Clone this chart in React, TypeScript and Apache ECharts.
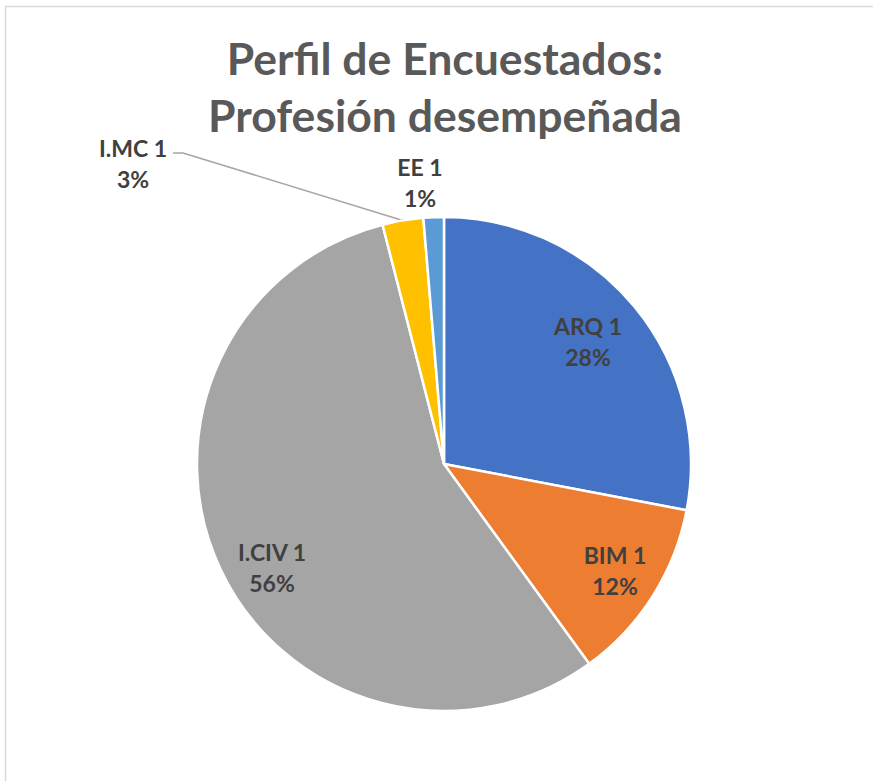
import React, { useEffect, useRef } from "react";
import * as echarts from "echarts";

// ---- data ----
const categories = ["ARQ 1", "BIM 1", "I.CIV 1", "I.MC 1", "EE 1"];
const values = [21, 9, 42, 2, 1];
const colors = ["#4472C4", "#ED7D31", "#A5A5A5", "#FFC000", "#5B9BD5"];
const titleText = "Perfil de Encuestados:\nProfesión desempeñada";

// ---- layout ----
const CX = 444;
const CY = 464;
const R = 247;
const labelPos: number[][] = [
  [588, 341],
  [615, 570],
  [272, 567],
  [133, 163],
  [420, 182],
];
const LEADER_INDEX = 3;

export default function App() {
  const ref = useRef<HTMLDivElement>(null);

  useEffect(() => {
    if (!ref.current) return;
    const chart = echarts.init(ref.current, undefined, { renderer: "svg" });
    const total = values.reduce((a, b) => a + b, 0);

    const midAngle = (i: number) => {
      let before = 0;
      for (let k = 0; k < i; k++) before += values[k];
      const frac = (before + values[i] / 2) / total;
      return frac * Math.PI * 2; // clockwise from top
    };

    chart.setOption({
      animation: false,
      backgroundColor: "#ffffff",
      title: {
        text: titleText,
        left: "center",
        top: 24,
        textStyle: {
          fontFamily: "Lato",
          fontWeight: "bold",
          fontSize: 44.5,
          lineHeight: 57,
          color: "#595959",
        },
      },
      graphic: [
        {
          type: "rect",
          shape: { x: 5.5, y: 6.5, width: 1200, height: 1200 },
          style: { fill: "none", stroke: "#d9d9d9", lineWidth: 1.5 },
          silent: true,
          z: -10,
        },
      ],
      series: [
        {
          type: "pie",
          center: [CX, CY],
          radius: R,
          startAngle: 90,
          clockwise: true,
          avoidLabelOverlap: false,
          itemStyle: { borderColor: "#ffffff", borderWidth: 2.5 },
          emphasis: { disabled: true },
          label: {
            show: true,
            position: "outside",
            fontFamily: "Lato",
            fontWeight: "bold",
            fontSize: 23,
            lineHeight: 31,
            color: "#404040",
            formatter: (p: any) =>
              `${p.name}\n${Math.round((p.value / total) * 100)}%`,
          },
          labelLine: {
            show: true,
            lineStyle: { color: "#a6a6a6", width: 1.5 },
          },
          labelLayout: (params: any) => {
            const i = params.dataIndex;
            const [x, y] = labelPos[i];
            const res: any = { x, y, align: "center", verticalAlign: "middle" };
            if (i === LEADER_INDEX) {
              const a = midAngle(i);
              const px = CX + R * Math.sin(a);
              const py = CY - R * Math.cos(a);
              res.labelLinePoints = [
                [px, py],
                [183, 153],
                [173, 153],
              ];
            }
            return res;
          },
          data: categories.map((name, i) => ({
            name,
            value: values[i],
            itemStyle: { color: colors[i] },
            labelLine: { show: i === LEADER_INDEX },
          })),
        },
      ],
    });
    return () => chart.dispose();
  }, []);

  return (
    <div
      style={{
        position: "fixed",
        left: 0,
        top: 0,
        width: 873,
        height: 781,
        overflow: "hidden",
        background: "#fff",
      }}
    >
      <div ref={ref} style={{ width: 890, height: 790 }} />
    </div>
  );
}
